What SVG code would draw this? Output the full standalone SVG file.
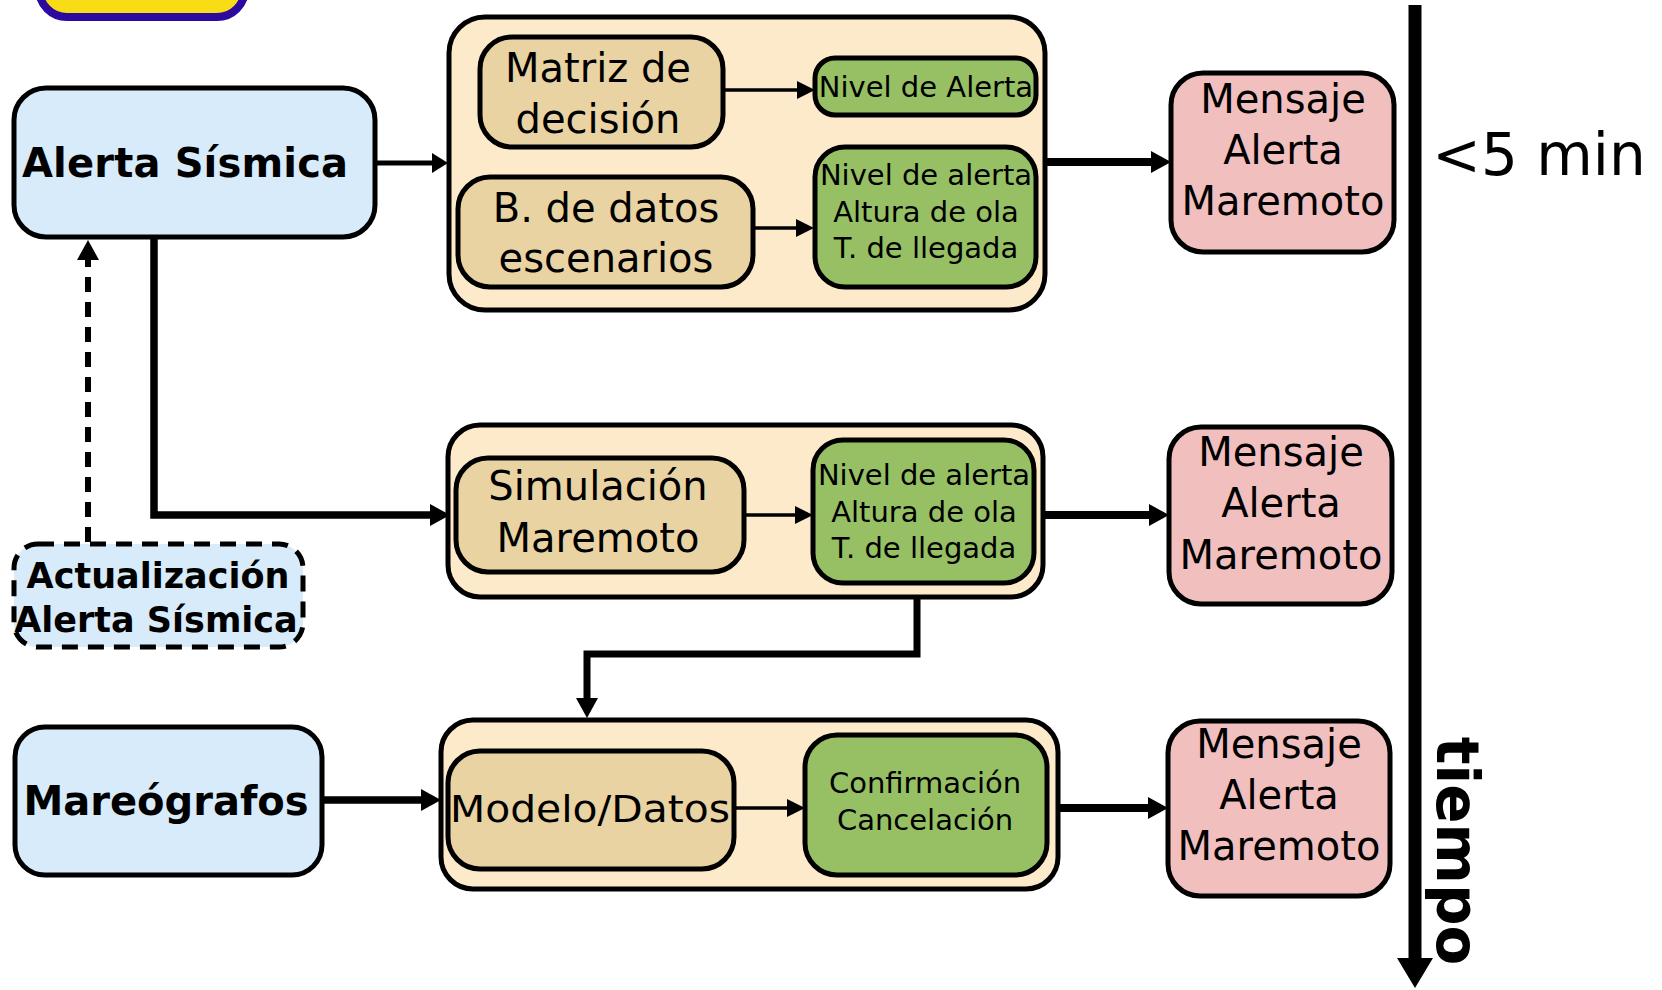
<svg xmlns="http://www.w3.org/2000/svg" width="1662" height="990" viewBox="0 0 1662 990">
<style>
.bx{stroke:#000;stroke-width:5}
.blue{fill:#d7ebfa}
.cont{fill:#fdeacb}
.tan{fill:#e9d3a2}
.green{fill:#97c064}
.pink{fill:#f2bfbf}
text{font-family:"DejaVu Sans","Liberation Sans",sans-serif;text-anchor:middle;fill:#000}
.b{font-weight:bold}
.t40{font-size:40px}
.t29{font-size:29px}
.con{fill:none;stroke:#000}
</style>
<defs>
<marker id="thick" viewBox="0 0 20 22" markerWidth="20" markerHeight="22" refX="2" refY="11" orient="auto" markerUnits="userSpaceOnUse"><path d="M0,0 L20,11 L0,22 z"/></marker>
<marker id="med" viewBox="0 0 16 20" markerWidth="16" markerHeight="20" refX="2" refY="10" orient="auto" markerUnits="userSpaceOnUse"><path d="M0,0 L16,10 L0,20 z"/></marker>
<marker id="thin" viewBox="0 0 18 18" markerWidth="18" markerHeight="18" refX="2" refY="9" orient="auto" markerUnits="userSpaceOnUse"><path d="M0,0 L18,9 L0,18 z"/></marker>
<marker id="time" viewBox="0 0 30 36" markerWidth="30" markerHeight="36" refX="2" refY="18" orient="auto" markerUnits="userSpaceOnUse"><path d="M0,0 L30,18 L0,36 z"/></marker>
</defs>

<g id="banner"><rect x="39" y="-40" width="206" height="57" rx="28" fill="#f7dc16" stroke="#2d0a9f" stroke-width="8"/></g>

<g id="alerta-sismica"><rect class="bx blue" x="14" y="88" width="361" height="149" rx="32"/><text class="b t40" x="185" y="177" textLength="326">Alerta Sísmica</text></g>

<g id="actualizacion"><rect class="blue" x="14" y="544" width="289" height="103" rx="24" stroke="#000" stroke-width="5" stroke-dasharray="16 10"/><text class="b" font-size="35" x="158" y="588">Actualización</text><text class="b" font-size="35" x="156" y="632">Alerta Sísmica</text></g>

<g id="mareografos"><rect class="bx blue" x="15" y="727" width="307" height="148" rx="30"/><text class="b t40" x="166" y="815">Mareógrafos</text></g>

<g id="contenedor-1"><rect class="bx cont" x="449" y="17" width="596" height="293" rx="36"/></g>
<g id="matriz"><rect class="bx tan" x="480" y="37" width="243" height="110" rx="32"/><text class="t40" x="598" y="82">Matriz de</text><text class="t40" x="598" y="133">decisión</text></g>
<g id="bdatos"><rect class="bx tan" x="458" y="177" width="295" height="110" rx="32"/><text class="t40" x="606" y="222">B. de datos</text><text class="t40" x="606" y="272">escenarios</text></g>
<g id="nivel-alerta-1"><rect class="bx green" x="815" y="58" width="221" height="57" rx="20"/><text class="t29" x="926" y="97">Nivel de Alerta</text></g>
<g id="nivel-alerta-2"><rect class="bx green" x="815" y="147" width="221" height="140" rx="30"/><text class="t29" x="926" y="185">Nivel de alerta</text><text class="t29" x="926" y="222">Altura de ola</text><text class="t29" x="926" y="258">T. de llegada</text></g>
<g id="mensaje-1"><rect class="bx pink" x="1171" y="73" width="223" height="179" rx="32"/><text class="t40" x="1283" y="113">Mensaje</text><text class="t40" x="1283" y="164">Alerta</text><text class="t40" x="1283" y="215">Maremoto</text></g>

<g id="contenedor-2"><rect class="bx cont" x="448" y="425" width="595" height="172" rx="32"/></g>
<g id="simulacion"><rect class="bx tan" x="456" y="458" width="288" height="114" rx="32"/><text class="t40" x="598" y="500">Simulación</text><text class="t40" x="598" y="552">Maremoto</text></g>
<g id="nivel-alerta-3"><rect class="bx green" x="813" y="440" width="221" height="143" rx="30"/><text class="t29" x="924" y="485">Nivel de alerta</text><text class="t29" x="924" y="522">Altura de ola</text><text class="t29" x="924" y="558">T. de llegada</text></g>
<g id="mensaje-2"><rect class="bx pink" x="1169" y="427" width="223" height="177" rx="32"/><text class="t40" x="1281" y="466">Mensaje</text><text class="t40" x="1281" y="517">Alerta</text><text class="t40" x="1281" y="569">Maremoto</text></g>

<g id="contenedor-3"><rect class="bx cont" x="441" y="720" width="617" height="169" rx="32"/></g>
<g id="modelo"><rect class="bx tan" x="448" y="751" width="286" height="118" rx="32"/><text font-size="38" x="590" y="822" textLength="280" lengthAdjust="spacingAndGlyphs">Modelo/Datos</text></g>
<g id="confirmacion"><rect class="bx green" x="805" y="735" width="242" height="140" rx="32"/><text class="t29" x="925" y="793">Confirmación</text><text class="t29" x="925" y="830">Cancelación</text></g>
<g id="mensaje-3"><rect class="bx pink" x="1168" y="721" width="222" height="175" rx="32"/><text class="t40" x="1279" y="758">Mensaje</text><text class="t40" x="1279" y="809">Alerta</text><text class="t40" x="1279" y="860">Maremoto</text></g>

<g id="connectors">
<path class="con" stroke-width="5" d="M375,163 H434" marker-end="url(#med)"/>
<path class="con" stroke-width="7.5" d="M154,239 V515 H432" marker-end="url(#thick)"/>
<path class="con" stroke-width="6" stroke-dasharray="15 10" d="M88,542 V258" marker-end="url(#thick)"/>
<path class="con" stroke-width="3.5" d="M725,90 H799" marker-end="url(#thin)"/>
<path class="con" stroke-width="3.5" d="M755,228 H798" marker-end="url(#thin)"/>
<path class="con" stroke-width="8" d="M1047,162 H1153" marker-end="url(#thick)"/>
<path class="con" stroke-width="3.5" d="M746,515 H797" marker-end="url(#thin)"/>
<path class="con" stroke-width="8" d="M1045,515 H1151" marker-end="url(#thick)"/>
<path class="con" stroke-width="7" d="M917,599 V654 H587 V700" marker-end="url(#thick)"/>
<path class="con" stroke-width="7.5" d="M324,800 H423" marker-end="url(#thick)"/>
<path class="con" stroke-width="3.5" d="M736,808 H789" marker-end="url(#thin)"/>
<path class="con" stroke-width="8" d="M1060,808 H1150" marker-end="url(#thick)"/>
<path class="con" stroke-width="13" d="M1415,5 V960" marker-end="url(#time)"/>
</g>

<g id="tiempo-labels">
<text font-size="58" x="1539" y="175">&lt;5 min</text>
<text class="b" font-size="58" transform="translate(1437,851) rotate(90)" x="0" y="0">tiempo</text>
</g>
</svg>
